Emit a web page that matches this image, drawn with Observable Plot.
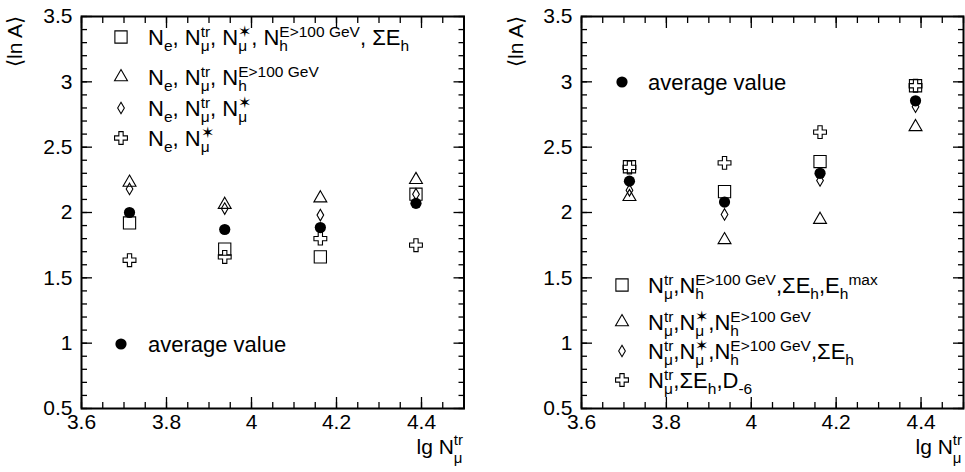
<!DOCTYPE html>
<html><head><meta charset="utf-8">
<script src="https://cdn.jsdelivr.net/npm/d3@7"></script>
<script src="https://cdn.jsdelivr.net/npm/@observablehq/plot@0.6"></script>
<style>
body{margin:0;background:#fff;}
#wrap{position:relative;width:965px;height:472px;overflow:hidden;font-family:"Liberation Sans",Arial,Helvetica,sans-serif;}
#wrap svg{position:absolute;top:0;}
</style></head><body><div id="wrap"></div>
<script>
// ---- data ----
const lgN = [3.713, 3.937, 4.162, 4.387];

const leftSquare   = [1.92, 1.72, 1.66, 2.14];
const leftTriangle = [2.23, 2.06, 2.11, 2.25];
const leftDiamond  = [2.18, 2.03, 1.98, 2.14];
const leftCross    = [1.635, 1.66, 1.80, 1.75];
const leftAvg      = [2.00, 1.87, 1.885, 2.07];

const rightSquare   = [2.35, 2.16, 2.39, 2.97];
const rightTriangle = [2.12, 1.79, 1.945, 2.655];
const rightDiamond  = [2.17, 1.985, 2.245, 2.81];
const rightCross    = [2.345, 2.38, 2.615, 2.97];
const rightAvg      = [2.24, 2.08, 2.30, 2.855];

const xMajor = [3.6, 3.8, 4.0, 4.2, 4.4];
const yMajor = [0.5, 1, 1.5, 2, 2.5, 3, 3.5];
const xMinor = d3.range(0, 19).map(i => 3.6 + i * 0.05);
const yMinor = d3.range(0, 31).map(i => 0.5 + i * 0.1);
const fmt = d => String(+(+d).toFixed(1));

const FONT = '"Liberation Sans",Arial,Helvetica,sans-serif';
const R = {square: 6.9, triangle: 4.8, diamond: 3.5, cross: 5.4, circle: 5.6};

function panel(s, width, ml, mr) {
  const blank = () => "";
  const tickOpts = {tickFormat: blank, label: null, strokeWidth: 1.3};
  const dot = (y, symbol) => Plot.dot(lgN, {x: lgN, y, symbol, r: R[symbol], stroke: "black", fill: "none", strokeWidth: 1.1});
  return Plot.plot({
    width, height: 472,
    marginLeft: ml, marginRight: mr, marginTop: 16, marginBottom: 64,
    x: {domain: [3.6, 4.5]},
    y: {domain: [0.5, 3.5]},
    style: {fontFamily: FONT, fontSize: "21px", background: "transparent", color: "black", overflow: "visible"},
    marks: [
      Plot.axisX({anchor: "bottom", ticks: xMinor, tickSize: -6, ...tickOpts}),
      Plot.axisX({anchor: "bottom", ticks: xMajor, tickSize: -11, ...tickOpts}),
      Plot.axisX({anchor: "top", ticks: xMinor, tickSize: -6, ...tickOpts}),
      Plot.axisX({anchor: "top", ticks: xMajor, tickSize: -11, ...tickOpts}),
      Plot.axisY({anchor: "left", ticks: yMinor, tickSize: -6, ...tickOpts}),
      Plot.axisY({anchor: "left", ticks: yMajor, tickSize: -11, ...tickOpts}),
      Plot.axisY({anchor: "right", ticks: yMinor, tickSize: -6, ...tickOpts}),
      Plot.axisY({anchor: "right", ticks: yMajor, tickSize: -11, ...tickOpts}),
      Plot.axisX({anchor: "bottom", ticks: xMajor, tickSize: 0, tickPadding: 6, tickFormat: fmt, label: null, fontSize: 21}),
      Plot.axisY({anchor: "left", ticks: yMajor, tickSize: 0, tickPadding: 9, tickFormat: fmt, label: null, fontSize: 21}),
      Plot.frame({stroke: "black", strokeWidth: 2}),
      dot(s.square, "square"),
      dot(s.triangle, "triangle"),
      dot(s.diamond, "diamond"),
      dot(s.cross, "cross"),
      Plot.dot(lgN, {x: lgN, y: s.avg, r: R.circle, fill: "black", stroke: "none"})
    ]
  });
}

const wrap = document.getElementById("wrap");
const left = panel({square: leftSquare, triangle: leftTriangle, diamond: leftDiamond, cross: leftCross, avg: leftAvg}, 482, 81, 18.5);
left.style.left = "0px";
wrap.appendChild(left);
const right = panel({square: rightSquare, triangle: rightTriangle, diamond: rightDiamond, cross: rightCross, avg: rightAvg}, 483, 99, 2);
right.style.left = "482px";
wrap.appendChild(right);

// ---- overlay: legends and axis titles ----
const ov = d3.select(wrap).append("svg").attr("width", 965).attr("height", 472)
  .style("left", "0px").style("pointer-events", "none")
  .attr("font-family", FONT).attr("fill", "black");

function latex(x, y, parts, o = {}) {
  const size = o.size || 22, ss = o.script || 15.5, up = o.up || 8.5, down = o.down || 5.5;
  const g = ov.append("g");
  let cx = 0;
  const put = (txt, dy, fs) => {
    const el = g.append("text").attr("x", cx).attr("y", dy).attr("font-size", fs)
      .style("white-space", "pre").text(txt);
    return el.node().getComputedTextLength();
  };
  for (const p of parts) {
    if (typeof p === "string") cx += put(p, 0, size);
    else {
      let w = 0;
      if (p.sup) w = Math.max(w, put(p.sup, -up, ss));
      if (p.sub) w = Math.max(w, put(p.sub, down, ss));
      cx += w;
    }
  }
  const dx = o.anchor === "end" ? -cx : 0;
  g.attr("transform", `translate(${x + dx},${y})`);
}

const symType = {square: d3.symbolSquare, triangle: d3.symbolTriangle, diamond: d3.symbolDiamond, cross: d3.symbolCross, circle: d3.symbolCircle};
function sym(x, y, type) {
  const p = ov.append("path").attr("transform", `translate(${x},${y})`)
    .attr("d", d3.symbol(symType[type], Math.PI * R[type] * R[type])());
  if (type === "circle") p.attr("fill", "black");
  else p.attr("fill", "none").attr("stroke", "black").attr("stroke-width", 1.1);
}

const STAR = "\u2736";
const mu = "\u03bc";
const Eh = {sub: "h", sup: "E>100 GeV"};

const leftLegend = [
  {type: "square", y: 37, parts: ["N", {sub: "e"}, ", N", {sub: mu, sup: "tr"}, ", N", {sub: mu, sup: STAR}, ", N", Eh, ", \u03a3E", {sub: "h"}]},
  {type: "triangle", y: 77, parts: ["N", {sub: "e"}, ", N", {sub: mu, sup: "tr"}, ", N", Eh]},
  {type: "diamond", y: 108, parts: ["N", {sub: "e"}, ", N", {sub: mu, sup: "tr"}, ", N", {sub: mu, sup: STAR}]},
  {type: "cross", y: 138, parts: ["N", {sub: "e"}, ", N", {sub: mu, sup: STAR}]},
  {type: "circle", y: 344, parts: ["average value"]}
];
const rightLegend = [
  {type: "circle", y: 82, parts: ["average value"]},
  {type: "square", y: 285, parts: ["N", {sub: mu, sup: "tr"}, ",N", Eh, ",\u03a3E", {sub: "h"}, ",E", {sub: "h"}, {sup: "max"}]},
  {type: "triangle", y: 322, parts: ["N", {sub: mu, sup: "tr"}, ",N", {sub: mu, sup: STAR}, ",N", Eh]},
  {type: "diamond", y: 351, parts: ["N", {sub: mu, sup: "tr"}, ",N", {sub: mu, sup: STAR}, ",N", Eh, ",\u03a3E", {sub: "h"}]},
  {type: "cross", y: 380, parts: ["N", {sub: mu, sup: "tr"}, ",\u03a3E", {sub: "h"}, ",D", {sub: "-6"}]}
];
for (const e of leftLegend) { sym(121, e.y, e.type); latex(148, e.y + 8, e.parts, {size: 22}); }
for (const e of rightLegend) { sym(622, e.y, e.type); latex(648, e.y + 8, e.parts, {size: 22}); }

// axis titles
for (const xr of [463, 962]) latex(xr, 454, ["lg N", {sub: mu, sup: "tr"}], {anchor: "end", size: 21, script: 15, up: 9, down: 9});
for (const xb of [22, 523]) {
  ov.append("text").attr("transform", `translate(${xb},16) rotate(-90)`)
    .attr("text-anchor", "end").attr("font-size", 21).text("\u27e8ln A\u27e9");
}
</script></body></html>
